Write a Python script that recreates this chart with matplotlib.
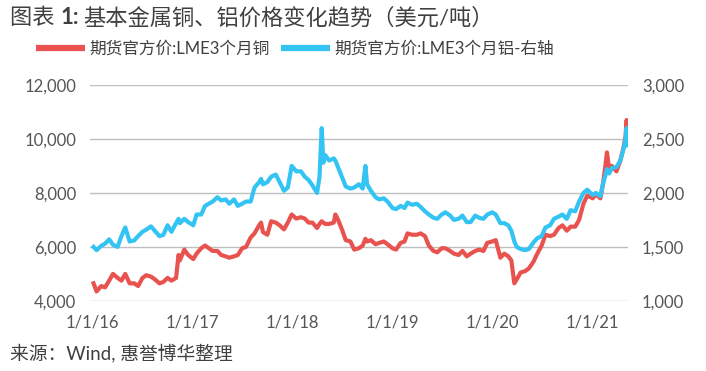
import matplotlib
matplotlib.use("Agg")
from matplotlib import pyplot as plt
import matplotlib.dates as mdates
from matplotlib.ticker import FuncFormatter
import pandas as pd

plt.rcParams['font.family'] = ['Lato', 'Noto Sans CJK SC', 'DejaVu Sans']

# dates, copper (left axis) and aluminium (right axis), USD/t
dates = [
    "2016-01-04", "2016-01-15", "2016-02-01", "2016-02-15", "2016-03-01", "2016-03-15",
    "2016-04-01", "2016-04-15", "2016-04-29", "2016-05-15", "2016-06-01", "2016-06-15",
    "2016-07-01", "2016-07-15", "2016-08-01", "2016-08-15", "2016-09-01", "2016-09-15",
    "2016-10-01", "2016-10-15", "2016-11-01", "2016-11-10", "2016-11-15", "2016-12-01",
    "2016-12-15",
    "2017-01-03", "2017-01-15", "2017-02-01", "2017-02-15", "2017-03-01", "2017-03-15",
    "2017-04-01", "2017-04-15", "2017-05-01", "2017-05-15", "2017-06-01", "2017-06-15",
    "2017-07-01", "2017-07-15", "2017-08-01", "2017-08-15", "2017-09-01", "2017-09-08",
    "2017-09-15", "2017-10-01", "2017-10-15", "2017-11-01", "2017-11-15", "2017-12-01",
    "2017-12-15", "2017-12-29",
    "2018-01-15", "2018-02-01", "2018-02-15", "2018-03-01", "2018-03-15", "2018-04-01",
    "2018-04-10", "2018-04-18", "2018-04-24", "2018-05-01", "2018-05-15", "2018-06-01",
    "2018-06-07", "2018-06-15", "2018-07-01", "2018-07-15", "2018-08-01", "2018-08-15",
    "2018-09-01", "2018-09-15", "2018-09-25", "2018-10-01", "2018-10-15", "2018-11-01",
    "2018-11-15", "2018-12-01", "2018-12-15",
    "2019-01-02", "2019-01-15", "2019-02-01", "2019-02-15", "2019-02-26", "2019-03-15",
    "2019-04-01", "2019-04-15", "2019-05-01", "2019-05-15", "2019-06-01", "2019-06-15",
    "2019-07-01", "2019-07-15", "2019-08-01", "2019-08-15", "2019-09-01", "2019-09-15",
    "2019-10-01", "2019-10-15", "2019-11-01", "2019-11-15", "2019-12-01", "2019-12-15",
    "2020-01-02", "2020-01-15", "2020-02-01", "2020-02-15", "2020-03-01", "2020-03-12",
    "2020-03-23", "2020-04-01", "2020-04-15", "2020-05-01", "2020-05-15", "2020-06-01",
    "2020-06-15", "2020-07-01", "2020-07-15", "2020-08-01", "2020-08-15", "2020-09-01",
    "2020-09-15", "2020-10-01", "2020-10-15", "2020-11-01", "2020-11-15", "2020-12-01",
    "2020-12-15",
    "2021-01-04", "2021-01-15", "2021-02-01", "2021-02-10", "2021-02-18", "2021-02-25",
    "2021-03-05", "2021-03-15", "2021-04-01", "2021-04-15", "2021-04-26", "2021-05-04",
    "2021-05-08", "2021-05-12",
]

copper = [
    4650, 4350, 4550, 4500, 4750, 5000, 4850, 4750, 5000, 4650, 4650, 4550,
    4850, 4950, 4900, 4800, 4650, 4700, 4850, 4750, 4850, 5700, 5500, 5900, 5700,
    5550, 5750, 5950, 6050, 5950, 5850, 5850, 5700, 5650, 5600, 5650, 5700,
    5950, 6000, 6350, 6500, 6800, 6900, 6550, 6450, 6950, 6900, 6800, 6650, 6900, 7200,
    7050, 7100, 7050, 6900, 6900, 6700, 6850, 6950, 6900, 6850, 6850, 6900,
    7200, 7050, 6650, 6250, 6200, 5900, 5950, 6050, 6300, 6200, 6250, 6100, 6150, 6200, 6100,
    5950, 5900, 6150, 6200, 6500, 6450, 6450, 6500, 6400, 6050, 5850, 5800,
    5950, 5950, 5850, 5750, 5700, 5850, 5650, 5750, 5850, 5900, 5850, 6150,
    6200, 6250, 5600, 5750, 5650, 5500, 4650, 4800, 5050, 5100, 5200, 5450,
    5750, 6050, 6450, 6400, 6450, 6700, 6800, 6600, 6750, 6750, 7000, 7600, 7900,
    7800, 7950, 7800, 8300, 8900, 9500, 8900, 9000, 8800, 9200, 9650, 10100, 10700, 9950,
]

aluminium = [
    1500, 1470, 1510, 1530, 1570, 1520, 1500, 1600, 1680, 1550, 1560, 1600,
    1640, 1660, 1690, 1650, 1600, 1610, 1700, 1640, 1720, 1760, 1720, 1760, 1730,
    1700, 1800, 1800, 1880, 1900, 1920, 1960, 1930, 1940, 1900, 1940, 1880,
    1900, 1920, 1920, 2050, 2100, 2130, 2080, 2100, 2150, 2170, 2100, 2020, 2050, 2250,
    2200, 2200, 2150, 2120, 2070, 2000, 2150, 2600, 2280, 2350, 2300, 2320,
    2300, 2250, 2150, 2060, 2040, 2050, 2080, 2040, 2250, 2080, 2020, 1960, 1940, 1950, 1920,
    1860, 1850, 1880, 1860, 1910, 1890, 1900, 1870, 1830, 1800, 1770, 1760,
    1800, 1820, 1790, 1750, 1760, 1790, 1730, 1730, 1790, 1770, 1760, 1800,
    1820, 1800, 1720, 1720, 1700, 1650, 1550, 1500, 1480, 1470, 1480, 1540,
    1580, 1600, 1680, 1700, 1760, 1780, 1800, 1760, 1840, 1830, 1920, 2000, 2030,
    1980, 2000, 1970, 2080, 2150, 2220, 2180, 2230, 2240, 2300, 2400, 2500, 2600, 2440,
]

labels = ["期货官方价:LME3个月铜", "期货官方价:LME3个月铝-右轴"]

dt = pd.to_datetime(dates)

red = "#E8534F"
blue = "#33C4F4"
txt = "#404040"

fig = plt.figure(figsize=(7.06, 3.71), dpi=100)
ax = fig.add_axes([0.1275, 0.189, 0.762, 0.582])
ax2 = ax.twinx()

l1, = ax.plot(dt, copper, color=red, lw=3, solid_joinstyle="round")
l2, = ax2.plot(dt, aluminium, color=blue, lw=3, solid_joinstyle="round")

ax.set_ylim(4000, 12000)
ax.set_yticks([4000, 6000, 8000, 10000, 12000])
ax2.set_ylim(1000, 3000)
ax2.set_yticks([1000, 1500, 2000, 2500, 3000])
ax.set_xlim(pd.Timestamp("2015-12-22"), pd.Timestamp("2021-05-13"))

fmt = FuncFormatter(lambda v, p: f"{v:,.0f}")
ax.yaxis.set_major_formatter(fmt)
ax2.yaxis.set_major_formatter(fmt)
ax.xaxis.set_major_locator(mdates.YearLocator())
ax.xaxis.set_major_formatter(FuncFormatter(
    lambda v, p: "1/1/" + mdates.num2date(v).strftime("%y")))

ax.grid(axis="y", color="#bfbfbf", lw=1)
ax.set_axisbelow(True)
for a in (ax, ax2):
    for s in a.spines.values():
        s.set_visible(False)
    a.tick_params(length=0, labelsize=12, colors="#555555")
ax.tick_params(axis="y", pad=10)
ax2.tick_params(axis="y", pad=10)
ax.tick_params(axis="x", pad=10)

# title with bold "1:"
t1 = fig.text(0.014, 0.952, "图表 ", fontsize=16, color=txt, va="center")
t2 = fig.text(0, 0, "1:", fontsize=16, color=txt, weight="bold", va="center")
fig.canvas.draw()
bb = t1.get_window_extent()
t2.set_position((bb.x1 / fig.bbox.width, 0.952))
fig.canvas.draw()
bb2 = t2.get_window_extent()
fig.text(bb2.x1 / fig.bbox.width + 0.006, 0.952,
         "基本金属铜、铝价格变化趋势（美元/吨）", fontsize=16, color=txt, va="center")

fig.legend([l1, l2], labels, loc="center left", bbox_to_anchor=(0.03, 0.868),
           ncol=2, frameon=False, fontsize=12, handlelength=2.9,
           handletextpad=0.3, columnspacing=0.7, labelcolor=txt)
for h in fig.legends[0].get_lines():
    h.set_linewidth(4.5)
    h.set_solid_capstyle("butt")

fig.text(0.014, 0.05, "来源：Wind, 惠誉博华整理", fontsize=13.5, color=txt, va="center")

fig.savefig("out.png", dpi=100)
